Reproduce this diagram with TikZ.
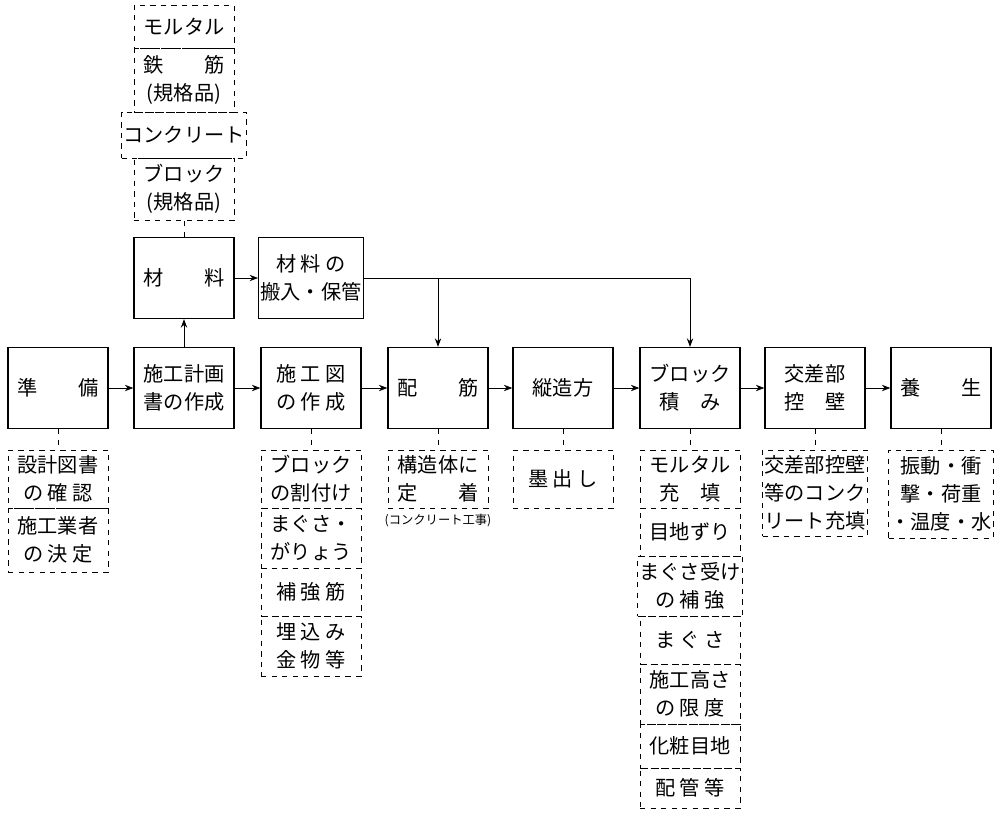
\documentclass[tikz,border=0pt]{standalone}
\usepackage{fontspec}
\setmainfont{Noto Sans CJK JP}
\usetikzlibrary{positioning,arrows.meta}
\begin{document}
\begin{tikzpicture}
    [
    x=0.02cm, y=-0.02cm,
    basic/.style={text centered, align=center, inner sep=1pt, font=\fontsize{11.5}{16}\selectfont},
    mainbox/.style={basic, draw, thick, minimum width=2cm, minimum height=1.62cm},
    item/.style={basic, draw, dashed, minimum width=2cm},
    link/.style={dashed},
    >={Stealth[]}
    ]
    \useasboundingbox (0,0) rectangle (1000,825);

    % Fila principal
    \node [mainbox] (jumbi) at (58,388) {準\qquad 備};
    \node [mainbox] (keikaku) at (184,388) {施工計画\\書の作成};
    \node [mainbox] (sekouzu) at (311,388) {施 工 図\\の 作 成};
    \node [mainbox] (haikin) at (438,388) {配\qquad 筋};
    \node [mainbox] (yarikata) at (563,388) {縦造方};
    \node [mainbox] (block) at (690,388) {ブロック\\積\quad み};
    \node [mainbox] (kousa) at (815,388) {交差部\\控\quad 壁};
    \node [mainbox] (yousei) at (941,388) {養\qquad 生};
    \foreach \a/\b in {jumbi/keikaku, keikaku/sekouzu, sekouzu/haikin, haikin/yarikata, yarikata/block, block/kousa, kousa/yousei}
        \draw [->] (\a) -- (\b);

    % Materiales
    \node [mainbox] (zairyou) at (184,278) {材\qquad 料};
    \node [mainbox] (hannyu) at (311,278) {材 料 の\\搬入・保管};
    \draw [->] (keikaku) -- (zairyou);
    \draw [->] (zairyou) -- (hannyu);
    \coordinate (bunki) at (438,278);
    \coordinate (kado) at (690,278);
    \draw (hannyu) -- (kado);
    \draw [->] (bunki) -- (haikin);
    \draw [->] (kado) -- (block);

    % Materiales: lista
    \node [item, minimum height=0.86cm] (m1) at (184,26.5) {モルタル};
    \node [item, minimum height=1.28cm] (m2) at (184,80) {鉄\qquad 筋\\(規格品)};
    \node [item, minimum height=0.92cm] (m3) at (184,135) {コンクリート};
    \node [item, minimum height=1.24cm] (m4) at (184,189) {ブロック\\(規格品)};
    \draw [link] (zairyou) -- (m4);

    % Preparacion
    \node [item, minimum height=1.16cm] (j1) at (58,479) {設計図書\\の 確 認};
    \node [item, minimum height=1.28cm] (j2) at (58,540) {施工業者\\の 決 定};
    \draw [link] (jumbi) -- (j1);

    % Planos de obra
    \node [item, minimum height=1.16cm] (s1) at (311,479) {ブロック\\の割付け};
    \node [item, minimum height=1.2cm] (s2) at (311,538) {まぐさ・\\がりょう};
    \node [item, minimum height=0.96cm] (s3) at (311,592) {補 強 筋};
    \node [item, minimum height=1.2cm] (s4) at (311,646) {埋 込 み\\金 物 等};
    \draw [link] (sekouzu) -- (s1);

    % Armadura
    \node [item, minimum height=1.16cm] (h1) at (438,479) {構造体に\\定\qquad 着};
    \node [basic, below=2pt of h1, font=\fontsize{7}{8}\selectfont] (h1n) {(コンクリート工事)};
    \draw [link] (haikin) -- (h1);

    % Replanteo
    \node [item, minimum height=1.16cm] (y1) at (563,479) {墨 出 し};
    \draw [link] (yarikata) -- (y1);

    % Colocacion de bloques
    \node [item, minimum height=1.16cm] (b1) at (690,479) {モルタル\\充\quad 填};
    \node [item, minimum height=0.96cm] (b2) at (690,532) {目地ずり};
    \node [item, minimum height=1.2cm] (b3) at (690,586) {まぐさ受け\\の 補 強};
    \node [item, minimum height=0.96cm] (b4) at (690,640) {ま ぐ さ};
    \node [item, minimum height=1.2cm] (b5) at (690,694) {施工高さ\\の 限 度};
    \node [item, minimum height=0.88cm] (b6) at (690,746) {化粧目地};
    \node [item, minimum height=0.8cm] (b7) at (690,788) {配 管 等};
    \draw [link] (block) -- (b1);

    % Muro de refuerzo
    \node [item, minimum height=1.72cm] (k1) at (815,493) {交差部控壁\\等のコンク\\リート充填};
    \draw [link] (kousa) -- (k1);

    % Curado
    \node [item, minimum height=1.76cm] (c1) at (941,494) {振動・衝\\撃・荷重\\・温度・水};
    \draw [link] (yousei) -- (c1);
\end{tikzpicture}
\end{document}
